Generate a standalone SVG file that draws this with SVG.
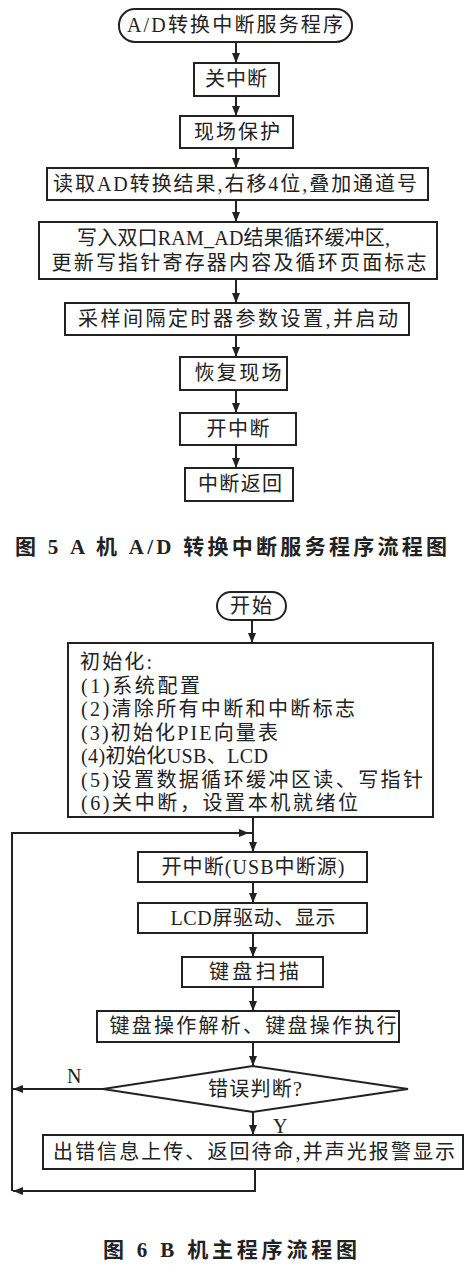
<svg xmlns="http://www.w3.org/2000/svg" width="473" height="1269" viewBox="0 0 473 1269">
<style>
.bx{fill:#fff;stroke:#222;stroke-width:2}
.ln{fill:none;stroke:#222;stroke-width:2}
.t{font-family:"Liberation Serif","Noto Sans CJK SC",serif;font-size:20px;fill:#222;text-anchor:middle}
.tl{font-family:"Liberation Serif","Noto Sans CJK SC",serif;font-size:20px;fill:#222}
.cap{font-family:"Liberation Serif","Noto Sans CJK SC",serif;font-size:21px;font-weight:bold;fill:#222;text-anchor:middle}
</style>
<defs>
<marker id="ah" markerWidth="10" markerHeight="8" refX="10" refY="4" orient="auto" markerUnits="userSpaceOnUse">
<path d="M0,0 L10,4 L0,8 Z" fill="#222"/>
</marker>
</defs>
<rect width="473" height="1269" fill="#fff"/>

<!-- Figure 5 -->
<g id="a_start"><rect class="bx" x="119" y="9" width="233" height="33" rx="16"/><text class="t" x="235" y="32" textLength="216" lengthAdjust="spacing">A/D转换中断服务程序</text></g>
<g id="a_guan"><rect class="bx" x="194" y="63" width="85" height="33"/><text class="t" x="236" y="86" textLength="62" lengthAdjust="spacing">关中断</text></g>
<g id="a_baohu"><rect class="bx" x="180" y="116" width="113" height="32"/><text class="t" x="237" y="139" textLength="86" lengthAdjust="spacing">现场保护</text></g>
<g id="a_read"><rect class="bx" x="47" y="168" width="381" height="32"/><text class="t" x="235" y="191" textLength="364" lengthAdjust="spacing">读取AD转换结果,右移4位,叠加通道号</text></g>
<g id="a_write"><rect class="bx" x="39" y="222" width="398" height="57"/><text class="tl" x="77" y="245" textLength="313" lengthAdjust="spacing">写入双口RAM_AD结果循环缓冲区,</text><text class="t" x="239" y="270" textLength="375" lengthAdjust="spacing">更新写指针寄存器内容及循环页面标志</text></g>
<g id="a_timer"><rect class="bx" x="65" y="303" width="344" height="32"/><text class="t" x="238" y="326" textLength="320" lengthAdjust="spacing">采样间隔定时器参数设置,并启动</text></g>
<g id="a_huifu"><rect class="bx" x="180" y="357" width="107" height="33"/><text class="t" x="238" y="380" textLength="87" lengthAdjust="spacing">恢复现场</text></g>
<g id="a_kai"><rect class="bx" x="180" y="413" width="116" height="32"/><text class="t" x="238" y="436" textLength="63" lengthAdjust="spacing">开中断</text></g>
<g id="a_ret"><rect class="bx" x="185" y="468" width="108" height="33"/><text class="t" x="240" y="491" textLength="84" lengthAdjust="spacing">中断返回</text></g>
<text class="cap" x="231" y="554" textLength="432" lengthAdjust="spacing">图 5 A 机 A/D 转换中断服务程序流程图</text>

<g id="a_edges">
<line class="ln" x1="236" y1="42" x2="236" y2="63" marker-end="url(#ah)"/>
<line class="ln" x1="236" y1="96" x2="236" y2="116" marker-end="url(#ah)"/>
<line class="ln" x1="236" y1="148" x2="236" y2="168" marker-end="url(#ah)"/>
<line class="ln" x1="236" y1="200" x2="236" y2="222" marker-end="url(#ah)"/>
<line class="ln" x1="236" y1="279" x2="236" y2="303" marker-end="url(#ah)"/>
<line class="ln" x1="236" y1="335" x2="236" y2="357" marker-end="url(#ah)"/>
<line class="ln" x1="236" y1="390" x2="236" y2="413" marker-end="url(#ah)"/>
<line class="ln" x1="236" y1="445" x2="236" y2="468" marker-end="url(#ah)"/>
</g>

<!-- Figure 6 -->
<g id="b_start"><rect class="bx" x="217" y="592" width="69" height="28" rx="14"/><text class="t" x="251" y="613" textLength="42" lengthAdjust="spacing">开始</text></g>
<g id="b_init"><rect class="bx" x="68" y="643" width="365" height="174"/>
<text class="tl" x="80" y="669" textLength="72" lengthAdjust="spacing">初始化:</text>
<text class="tl" x="81" y="692.5" textLength="119" lengthAdjust="spacing">(1)系统配置</text>
<text class="tl" x="81" y="716" textLength="274" lengthAdjust="spacing">(2)清除所有中断和中断标志</text>
<text class="tl" x="81" y="739.5" textLength="197" lengthAdjust="spacing">(3)初始化PIE向量表</text>
<text class="tl" x="81" y="763" textLength="187" lengthAdjust="spacing">(4)初始化USB、LCD</text>
<text class="tl" x="81" y="786.5" textLength="342" lengthAdjust="spacing">(5)设置数据循环缓冲区读、写指针</text>
<text class="tl" x="81" y="810" textLength="277" lengthAdjust="spacing">(6)关中断，设置本机就绪位</text>
</g>
<g id="b_kai"><rect class="bx" x="138" y="852" width="229" height="30"/><text class="t" x="253" y="874" textLength="183" lengthAdjust="spacing">开中断(USB中断源)</text></g>
<g id="b_lcd"><rect class="bx" x="138" y="903" width="229" height="30"/><text class="t" x="253" y="925" textLength="165" lengthAdjust="spacing">LCD屏驱动、显示</text></g>
<g id="b_scan"><rect class="bx" x="182" y="957" width="141" height="30"/><text class="t" x="254" y="979" textLength="90" lengthAdjust="spacing">键盘扫描</text></g>
<g id="b_parse"><rect class="bx" x="97" y="1011" width="302" height="31"/><text class="t" x="253" y="1033" textLength="287" lengthAdjust="spacing">键盘操作解析、键盘操作执行</text></g>
<g id="b_judge"><polygon class="bx" points="253,1066 408,1089 253,1112 103,1089"/><text class="t" x="255" y="1096" textLength="94" lengthAdjust="spacing">错误判断?</text></g>
<g id="b_err"><rect class="bx" x="43" y="1135" width="420" height="34"/><text class="t" x="254" y="1159" textLength="402" lengthAdjust="spacing">出错信息上传、返回待命,并声光报警显示</text></g>
<text class="cap" x="230" y="1257" textLength="254" lengthAdjust="spacing">图 6 B 机主程序流程图</text>

<g id="b_edges">
<line class="ln" x1="252" y1="620" x2="252" y2="643" marker-end="url(#ah)"/>
<line class="ln" x1="253" y1="817" x2="253" y2="852" marker-end="url(#ah)"/>
<line class="ln" x1="253" y1="882" x2="253" y2="903" marker-end="url(#ah)"/>
<line class="ln" x1="253" y1="933" x2="253" y2="957" marker-end="url(#ah)"/>
<line class="ln" x1="253" y1="987" x2="253" y2="1011" marker-end="url(#ah)"/>
<line class="ln" x1="253" y1="1042" x2="253" y2="1066" marker-end="url(#ah)"/>
<line class="ln" x1="253" y1="1112" x2="253" y2="1135" marker-end="url(#ah)"/>
<line class="ln" x1="103" y1="1089" x2="13" y2="1089" marker-end="url(#ah)"/>
<polyline class="ln" points="255,1169 255,1191 13,1191" marker-end="url(#ah)"/>
<polyline class="ln" points="12,1191 12,833 249,833" marker-end="url(#ah)"/>
<line class="ln" x1="249" y1="833" x2="253" y2="833"/>
<text class="tl" x="67" y="1083">N</text>
<text class="tl" x="273" y="1133">Y</text>
</g>
</svg>
